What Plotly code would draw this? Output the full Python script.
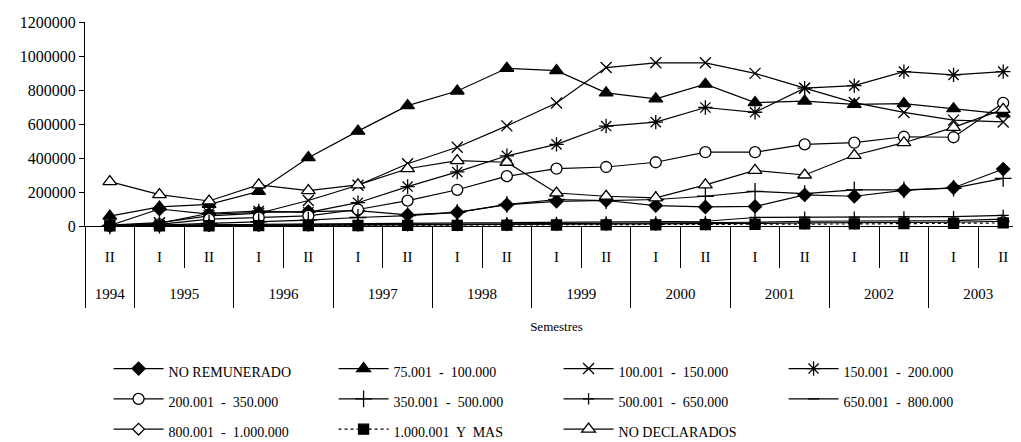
import plotly.graph_objects as go

# semester axis (two levels: year / semester)
years = ["1994", "1995", "1995", "1996", "1996", "1997", "1997", "1998", "1998",
         "1999", "1999", "2000", "2000", "2001", "2001", "2002", "2002", "2003", "2003"]
semesters = ["II", "I", "II", "I", "II", "I", "II", "I", "II",
             "I", "II", "I", "II", "I", "II", "I", "II", "I", "II"]

no_remunerado = [3000, 100000, 70000, 80000, 85000, 90000, 65000, 80000, 125000, 145000,
                 150000, 120000, 112000, 115000, 183000, 175000, 210000, 225000, 335000]
r75_100 = [58000, 112000, 127000, 204000, 402000, 558000, 708000, 794000, 928000, 914000,
           783000, 748000, 834000, 726000, 735000, 715000, 720000, 690000, 660000]
r100_150 = [5000, 20000, 60000, 75000, 150000, 240000, 366000, 463000, 589000, 724000,
            932000, 960000, 960000, 898000, 811000, 726000, 668000, 623000, 612000]
r150_200 = [2000, 15000, 75000, 88000, 80000, 137000, 232000, 318000, 413000, 480000,
            588000, 611000, 697000, 669000, 811000, 826000, 908000, 889000, 908000]
r200_350 = [1000, 10000, 40000, 50000, 60000, 97000, 149000, 213000, 293000, 337000,
            347000, 375000, 434000, 434000, 480000, 490000, 525000, 522000, 724000]
r350_500 = [1000, 5000, 15000, 25000, 35000, 50000, 61000, 80000, 127000, 156000,
            149000, 156000, 175000, 204000, 190000, 213000, 213000, 223000, 280000]
r500_650 = [3000, 5000, 8000, 10000, 12000, 14000, 16000, 18000, 20000, 22000,
            24000, 25000, 28000, 50000, 52000, 52000, 54000, 55000, 62000]
r650_800 = [1000, 3000, 4000, 5000, 6000, 8000, 9000, 10000, 12000, 14000,
            15000, 15000, 18000, 22000, 28000, 28000, 30000, 32000, 40000]
r800_1000 = [1000, 2000, 3000, 3000, 4000, 5000, 6000, 7000, 8000, 9000,
             10000, 10000, 12000, 15000, 18000, 18000, 20000, 22000, 28000]
r1000_mas = [500, 1000, 1500, 2000, 2500, 3000, 3500, 4000, 5000, 6000,
             7000, 7000, 8000, 10000, 12000, 12000, 14000, 15000, 18000]
no_declarados = [261000, 185000, 147000, 242000, 208000, 242000, 337000, 385000, 375000, 194000,
                 175000, 166000, 242000, 327000, 300000, 416000, 490000, 580000, 686000]

FONT = "Liberation Serif, DejaVu Serif, serif"
BLK = "black"

cats = [f"{y} {s}" for y, s in zip(years, semesters)]

# year groups: boundaries between years and the centre of each group
year_names = []
year_first = []
for i, y in enumerate(years):
    if not year_names or year_names[-1] != y:
        year_names.append(y)
        year_first.append(i)
year_last = year_first[1:] + [len(years)]
year_bounds = [f - 0.5 for f in year_first] + [len(years) - 0.5]
year_centers = [(a + b - 1) / 2 for a, b in zip(year_first, year_last)]
xrange = [-0.5, len(years) - 0.5]

series = [
    ("NO REMUNERADO", no_remunerado, "diamond", 10, BLK, "solid"),
    ("75.001  -  100.000", r75_100, "triangle-up", 12, BLK, "solid"),
    ("100.001  -  150.000", r100_150, "x-thin-open", 11, BLK, "solid"),
    ("150.001  -  200.000", r150_200, "asterisk-open", 12, BLK, "solid"),
    ("200.001  -  350.000", r200_350, "circle", 11, "white", "solid"),
    ("350.001  -  500.000", r350_500, "cross-thin-open", 12, BLK, "solid"),
    ("500.001  -  650.000", r500_650, "cross-thin-open", 8, BLK, "solid"),
    ("650.001  -  800.000", r650_800, "line-ew-open", 8, BLK, "solid"),
    ("800.001  -  1.000.000", r800_1000, "diamond", 9, "white", "solid"),
    ("1.000.001  Y  MAS", r1000_mas, "square", 10, BLK, "dot"),
    ("NO DECLARADOS", no_declarados, "triangle-up", 12, "white", "solid"),
]

fig = go.Figure()
for name, vals, sym, size, fill, dash in series:
    fig.add_trace(go.Scatter(
        x=cats, y=vals, mode="lines+markers",
        name=f'<span style="font-size:14px">{name}</span>',
        line={"color": BLK, "width": 1.2, "dash": dash},
        marker={"symbol": sym, "size": size, "color": fill,
                "line": {"color": BLK, "width": 1.3}},
        cliponaxis=False,
    ))

# empty helper traces so the two overlay axes (tick marks, year labels) are drawn
for ax in ("x2", "x3"):
    fig.add_trace(go.Scatter(x=xrange, y=[None, None], xaxis=ax, mode="lines",
                             showlegend=False, hoverinfo="skip"))

fig.update_layout(
    width=1021, height=442,
    margin={"l": 77, "r": 1, "t": 14, "b": 218},
    paper_bgcolor="white", plot_bgcolor="white",
    font={"family": FONT, "color": BLK, "size": 15},
    showlegend=True,
    legend={"orientation": "h", "x": 0.025, "xanchor": "left", "y": -0.6, "yanchor": "top",
            "font": {"size": 21, "family": FONT}, "entrywidth": 160, "entrywidthmode": "pixels",
            "itemwidth": 50},
    xaxis={"type": "category", "categoryorder": "array", "categoryarray": cats,
           "range": xrange, "tickvals": cats, "ticktext": semesters,
           "ticks": "", "ticklabelstandoff": 17, "tickfont": {"size": 15, "family": FONT},
           "showline": True, "linecolor": BLK, "linewidth": 1, "showgrid": False},
    # tick marks: long ones between years, short ones between semesters
    xaxis2={"overlaying": "x", "anchor": "y", "side": "bottom", "range": xrange,
            "tickmode": "array", "tickvals": year_bounds, "showticklabels": False,
            "ticks": "outside", "ticklen": 81, "tickcolor": BLK, "tickwidth": 1,
            "minor": {"ticks": "outside", "ticklen": 41, "tick0": -0.5, "dtick": 1,
                      "tickcolor": BLK, "tickwidth": 1, "showgrid": False},
            "showgrid": False, "zeroline": False, "showline": False},
    # year labels
    xaxis3={"overlaying": "x", "anchor": "y", "side": "bottom", "range": xrange,
            "tickmode": "array", "tickvals": year_centers, "ticktext": year_names,
            "ticks": "", "ticklabelstandoff": 57, "tickfont": {"size": 15, "family": FONT},
            "showgrid": False, "zeroline": False, "showline": False,
            "title": {"text": "Semestres", "font": {"size": 13, "family": FONT}, "standoff": 20}},
    yaxis={"range": [0, 1200000], "tickvals": [0, 200000, 400000, 600000, 800000, 1000000, 1200000],
           "tickformat": "d", "showline": True, "linecolor": BLK, "linewidth": 1,
           "ticks": "outside", "ticklen": 5, "tickcolor": BLK, "showgrid": False,
           "zeroline": False, "tickfont": {"size": 16, "family": FONT}},
)

fig.write_html("out.html")
